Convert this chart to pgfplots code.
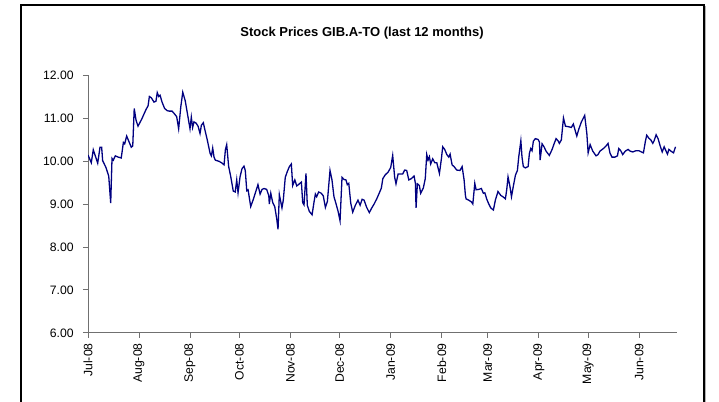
\documentclass[border=0pt]{standalone}
\usepackage{fontspec}
\setmainfont{Liberation Sans}
\usepackage{pgfplots}
\pgfplotsset{compat=1.18}
\usepackage{pgfplotstable}

\definecolor{priceLine}{HTML}{000080}
\definecolor{axisGray}{HTML}{707070}

% closing price, x = days since 1 Jul 2008
\pgfplotstableread{
day price
0.0 10.14
2.0 9.96
3.2 10.26
4.7 10.09
5.9 9.95
7.3 10.32
8.3 10.32
8.9 10.01
10.9 9.85
12.6 9.65
13.8 9.02
14.6 10.06
15.4 10.02
16.6 10.12
18.4 10.09
20.2 10.07
21.5 10.43
22.3 10.40
23.5 10.58
24.7 10.47
26.3 10.32
27.2 10.35
28.1 11.22
29.2 10.95
30.4 10.81
32.6 10.97
35.3 11.20
36.5 11.28
37.3 11.50
38.5 11.47
40.1 11.37
41.3 11.39
42.1 11.59
43.0 11.50
43.8 11.53
45.0 11.37
46.6 11.22
48.2 11.17
49.4 11.16
51.1 11.16
52.7 11.09
53.9 11.03
55.1 10.75
56.4 11.26
57.6 11.60
59.1 11.40
60.4 11.11
62.0 10.75
62.8 11.02
63.6 10.78
64.4 10.91
65.7 10.88
66.9 10.81
68.1 10.64
68.9 10.83
70.1 10.89
70.9 10.75
72.5 10.49
74.2 10.18
75.0 10.12
75.8 10.30
76.6 10.09
77.4 10.02
79.8 9.99
81.5 9.95
82.7 9.91
83.5 10.26
84.3 10.38
85.5 9.87
86.7 9.65
88.3 9.30
89.5 9.28
90.4 9.56
91.2 9.26
92.4 9.63
93.6 9.82
94.8 9.88
95.6 9.78
96.5 9.31
97.3 9.33
98.9 8.94
100.5 9.11
103.3 9.45
104.6 9.23
105.8 9.34
107.0 9.36
108.6 9.34
109.9 9.19
110.2 9.00
111.1 9.25
112.3 9.03
113.5 8.94
114.7 8.66
115.5 8.41
116.3 9.22
117.9 8.91
118.7 9.09
119.9 9.62
121.2 9.76
122.4 9.87
123.6 9.93
124.4 9.43
125.7 9.56
126.9 9.42
128.5 9.47
129.7 9.51
130.5 9.03
131.3 8.98
132.5 9.71
133.3 8.97
134.5 8.83
136.2 8.75
137.4 9.05
138.2 9.23
139.0 9.17
140.2 9.28
141.8 9.25
143.0 9.19
144.3 8.92
145.5 9.06
147.1 9.78
148.3 9.56
149.5 9.17
150.8 9.00
152.0 8.83
153.2 8.61
154.4 9.62
155.6 9.57
156.8 9.56
157.6 9.45
158.5 9.48
159.7 9.02
160.9 8.81
162.5 8.97
164.1 9.09
165.4 8.97
166.6 9.11
167.8 9.09
169.4 8.92
171.0 8.80
172.2 8.89
173.9 9.00
175.5 9.12
177.1 9.26
178.3 9.37
179.2 9.59
180.7 9.68
182.4 9.74
184.0 9.85
185.2 10.13
186.4 9.62
187.2 9.47
188.5 9.70
190.1 9.70
191.3 9.70
192.5 9.79
193.7 9.78
195.0 9.56
196.5 9.59
198.2 9.65
199.0 9.48
199.4 8.91
200.2 9.47
201.4 9.43
202.2 9.25
203.8 9.37
205.0 9.59
205.9 10.15
206.7 10.02
207.5 10.10
208.3 9.93
209.5 10.05
210.8 9.96
212.0 9.96
213.6 9.71
214.8 10.05
215.6 10.33
216.8 10.27
218.1 10.15
219.3 10.09
220.1 10.16
221.3 9.91
222.5 9.87
224.1 9.79
226.1 9.78
227.4 9.87
228.6 9.56
229.4 9.20
229.8 9.12
231.4 9.09
233.0 9.05
233.9 9.00
235.1 9.48
235.9 9.33
237.5 9.34
239.1 9.36
240.3 9.25
241.2 9.26
242.4 9.11
243.6 9.00
244.8 8.91
246.4 8.86
247.6 9.09
249.2 9.29
250.9 9.20
252.5 9.16
253.7 9.12
254.5 9.33
255.3 9.63
256.5 9.40
257.4 9.17
258.6 9.43
259.8 9.67
261.0 9.78
261.8 10.09
263.1 10.47
263.8 10.09
264.6 9.87
265.8 9.84
267.5 9.87
268.3 10.18
269.1 10.29
269.9 10.24
270.7 10.46
271.9 10.52
273.6 10.50
274.4 10.44
274.8 10.02
276.0 10.40
277.2 10.33
278.4 10.23
280.4 10.13
282.1 10.27
283.3 10.40
284.5 10.52
285.7 10.47
286.5 10.41
287.7 10.49
289.0 11.00
290.2 10.81
291.8 10.80
293.8 10.78
295.0 10.86
297.1 10.58
298.3 10.74
299.9 10.91
301.9 11.06
303.2 10.64
304.0 10.19
305.2 10.38
306.8 10.23
308.8 10.12
310.0 10.15
311.2 10.23
313.3 10.29
314.9 10.35
316.1 10.41
317.3 10.18
318.5 10.09
320.2 10.09
321.8 10.12
322.6 10.29
323.8 10.24
325.0 10.15
326.6 10.23
328.3 10.27
329.5 10.23
331.1 10.21
333.1 10.24
334.8 10.24
336.4 10.21
337.6 10.19
338.8 10.46
339.6 10.60
340.9 10.53
342.1 10.49
343.3 10.41
344.1 10.47
345.3 10.61
346.5 10.52
347.7 10.36
349.0 10.21
350.2 10.33
351.0 10.26
352.2 10.16
353.1 10.27
354.3 10.23
355.9 10.19
357.1 10.33
}\prices

\begin{document}
\begin{tikzpicture}
    % page = 719 x 402 px at 0.5pt per px
    \useasboundingbox (0,0) rectangle (359.5pt,201pt);
    \draw[black, line width=0.6pt] (10.5pt,-3pt) -- (10.5pt,198.5pt) -- (352pt,198.5pt) -- (352pt,-3pt);
    \draw[gray!60, line width=0.6pt] (352.8pt,-3pt) -- (352.8pt,197.8pt);
    \node[font=\bfseries\fontsize{6.5}{8}\selectfont] at (181pt,184.5pt)
        {Stock Prices GIB.A-TO (last 12 months)};

    \begin{axis}[
        at={(44pt,34.5pt)}, anchor=south west,
        scale only axis,
        width=294.5pt, height=129pt,
        xmin=0, xmax=358,
        ymin=6, ymax=12,
        axis lines*=left,
        axis line style={axisGray, line width=0.5pt},
        tick style={axisGray, line width=0.5pt},
        tick align=outside,
        major tick length=2.5pt,
        xtick={0,31,62,92,123,153,184,215,243,274,304,335},
        xticklabels={Jul-08,Aug-08,Sep-08,Oct-08,Nov-08,Dec-08,Jan-09,Feb-09,Mar-09,Apr-09,May-09,Jun-09},
        ytick={6,7,...,12},
        tick label style={font=\fontsize{6.1}{7}\selectfont, black},
        xticklabel style={rotate=90, anchor=east, inner sep=2.5pt},
        yticklabel style={inner sep=1pt, xshift=-3.5pt},
        /pgf/number format/.cd, fixed, fixed zerofill, precision=2,
            assume math mode=true,
    ]
        \addplot[priceLine, line width=0.65pt, mark=none] table[x=day, y=price] {\prices};
    \end{axis}
\end{tikzpicture}
\end{document}
